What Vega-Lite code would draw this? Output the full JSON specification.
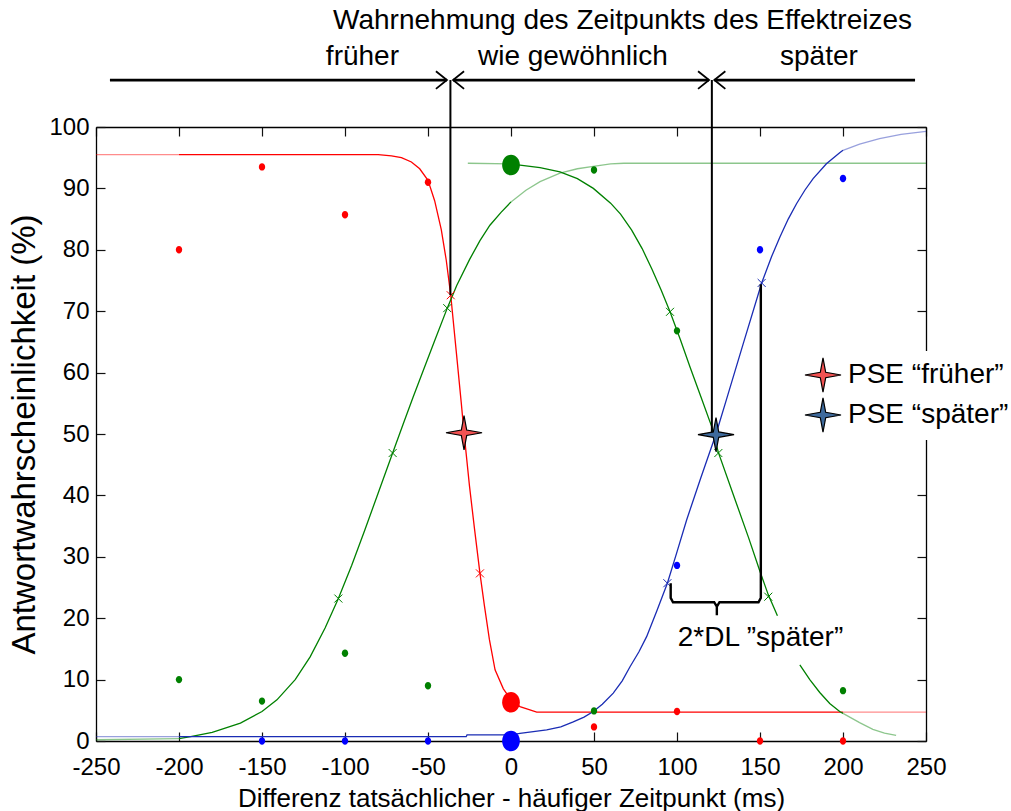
{
  "$schema": "https://vega.github.io/schema/vega-lite/v6.json",
  "width": 830,
  "height": 614,
  "autosize": {"type": "none"},
  "padding": {"left": 96, "top": 127, "right": 85, "bottom": 70},
  "background": "white",
  "config": {
    "font": "Liberation Sans",
    "view": {"stroke": null},
    "axis": {
      "grid": false, "domain": true, "domainColor": "black", "domainWidth": 1.3,
      "ticks": true, "tickColor": "#111111", "tickWidth": 1.2, "tickSize": -9,
      "labelColor": "black", "labelFontSize": 24, "labelFont": "Liberation Sans",
      "titleColor": "black", "titleFontSize": 26, "titleFontWeight": "normal", "titleFont": "Liberation Sans",
      "labelFlush": false, "labelOverlap": false, "labelBound": false
    }
  },
  "datasets": {
    "kurven": [
      {"kurve": "früher", "segment": "früher-1", "bereich": "Extrapolation", "x": -250, "y": 95.5},
      {"kurve": "früher", "segment": "früher-1", "bereich": "Extrapolation", "x": -200, "y": 95.5},
      {"kurve": "früher", "segment": "früher-2", "bereich": "Fit", "x": -200, "y": 95.5},
      {"kurve": "früher", "segment": "früher-2", "bereich": "Fit", "x": -80, "y": 95.5},
      {"kurve": "früher", "segment": "früher-2", "bereich": "Fit", "x": -72, "y": 95.3},
      {"kurve": "früher", "segment": "früher-2", "bereich": "Fit", "x": -66, "y": 95.0},
      {"kurve": "früher", "segment": "früher-2", "bereich": "Fit", "x": -60, "y": 94.3},
      {"kurve": "früher", "segment": "früher-2", "bereich": "Fit", "x": -55, "y": 93.2},
      {"kurve": "früher", "segment": "früher-2", "bereich": "Fit", "x": -50, "y": 91.3},
      {"kurve": "früher", "segment": "früher-2", "bereich": "Fit", "x": -46, "y": 88.0},
      {"kurve": "früher", "segment": "früher-2", "bereich": "Fit", "x": -42, "y": 83.3},
      {"kurve": "früher", "segment": "früher-2", "bereich": "Fit", "x": -39, "y": 78.3},
      {"kurve": "früher", "segment": "früher-2", "bereich": "Fit", "x": -36.3, "y": 72.6},
      {"kurve": "früher", "segment": "früher-2", "bereich": "Fit", "x": -33, "y": 63.5},
      {"kurve": "früher", "segment": "früher-2", "bereich": "Fit", "x": -30, "y": 55.2},
      {"kurve": "früher", "segment": "früher-2", "bereich": "Fit", "x": -28.3, "y": 50.2},
      {"kurve": "früher", "segment": "früher-2", "bereich": "Fit", "x": -25, "y": 41.5},
      {"kurve": "früher", "segment": "früher-2", "bereich": "Fit", "x": -22, "y": 34.6},
      {"kurve": "früher", "segment": "früher-2", "bereich": "Fit", "x": -18.7, "y": 27.3},
      {"kurve": "früher", "segment": "früher-2", "bereich": "Fit", "x": -16, "y": 22.0},
      {"kurve": "früher", "segment": "früher-2", "bereich": "Fit", "x": -13, "y": 16.5},
      {"kurve": "früher", "segment": "früher-2", "bereich": "Fit", "x": -9.6, "y": 11.6},
      {"kurve": "früher", "segment": "früher-2", "bereich": "Fit", "x": -4.6, "y": 8.5},
      {"kurve": "früher", "segment": "früher-2", "bereich": "Fit", "x": 0, "y": 6.7},
      {"kurve": "früher", "segment": "früher-2", "bereich": "Fit", "x": 5.4, "y": 5.6},
      {"kurve": "früher", "segment": "früher-2", "bereich": "Fit", "x": 10, "y": 5.2},
      {"kurve": "früher", "segment": "früher-2", "bereich": "Fit", "x": 15.5, "y": 4.7},
      {"kurve": "früher", "segment": "früher-2", "bereich": "Fit", "x": 200, "y": 4.7},
      {"kurve": "früher", "segment": "früher-3", "bereich": "Extrapolation", "x": 200, "y": 4.7},
      {"kurve": "früher", "segment": "früher-3", "bereich": "Extrapolation", "x": 250, "y": 4.7},

      {"kurve": "gewöhnlich", "segment": "steigend-1", "bereich": "Extrapolation", "x": -250, "y": 0.2},
      {"kurve": "gewöhnlich", "segment": "steigend-1", "bereich": "Extrapolation", "x": -200, "y": 0.4},
      {"kurve": "gewöhnlich", "segment": "steigend-2", "bereich": "Fit", "x": -200, "y": 0.4},
      {"kurve": "gewöhnlich", "segment": "steigend-2", "bereich": "Fit", "x": -193, "y": 0.7},
      {"kurve": "gewöhnlich", "segment": "steigend-2", "bereich": "Fit", "x": -180, "y": 1.4},
      {"kurve": "gewöhnlich", "segment": "steigend-2", "bereich": "Fit", "x": -163, "y": 2.9},
      {"kurve": "gewöhnlich", "segment": "steigend-2", "bereich": "Fit", "x": -150, "y": 4.8},
      {"kurve": "gewöhnlich", "segment": "steigend-2", "bereich": "Fit", "x": -141, "y": 6.7},
      {"kurve": "gewöhnlich", "segment": "steigend-2", "bereich": "Fit", "x": -130, "y": 10.0},
      {"kurve": "gewöhnlich", "segment": "steigend-2", "bereich": "Fit", "x": -121, "y": 13.7},
      {"kurve": "gewöhnlich", "segment": "steigend-2", "bereich": "Fit", "x": -112, "y": 18.4},
      {"kurve": "gewöhnlich", "segment": "steigend-2", "bereich": "Fit", "x": -104, "y": 23.2},
      {"kurve": "gewöhnlich", "segment": "steigend-2", "bereich": "Fit", "x": -96, "y": 28.6},
      {"kurve": "gewöhnlich", "segment": "steigend-2", "bereich": "Fit", "x": -88, "y": 34.4},
      {"kurve": "gewöhnlich", "segment": "steigend-2", "bereich": "Fit", "x": -80, "y": 40.4},
      {"kurve": "gewöhnlich", "segment": "steigend-2", "bereich": "Fit", "x": -71.3, "y": 46.9},
      {"kurve": "gewöhnlich", "segment": "steigend-2", "bereich": "Fit", "x": -65, "y": 51.6},
      {"kurve": "gewöhnlich", "segment": "steigend-2", "bereich": "Fit", "x": -59, "y": 56.0},
      {"kurve": "gewöhnlich", "segment": "steigend-2", "bereich": "Fit", "x": -52.8, "y": 60.4},
      {"kurve": "gewöhnlich", "segment": "steigend-2", "bereich": "Fit", "x": -46, "y": 65.2},
      {"kurve": "gewöhnlich", "segment": "steigend-2", "bereich": "Fit", "x": -38.4, "y": 70.5},
      {"kurve": "gewöhnlich", "segment": "steigend-2", "bereich": "Fit", "x": -32.7, "y": 74.2},
      {"kurve": "gewöhnlich", "segment": "steigend-2", "bereich": "Fit", "x": -25, "y": 78.4},
      {"kurve": "gewöhnlich", "segment": "steigend-2", "bereich": "Fit", "x": -18.7, "y": 81.5},
      {"kurve": "gewöhnlich", "segment": "steigend-2", "bereich": "Fit", "x": -12.7, "y": 84.0},
      {"kurve": "gewöhnlich", "segment": "steigend-2", "bereich": "Fit", "x": -6, "y": 86.1},
      {"kurve": "gewöhnlich", "segment": "steigend-2", "bereich": "Fit", "x": 0, "y": 87.8},
      {"kurve": "gewöhnlich", "segment": "steigend-3", "bereich": "Extrapolation", "x": 0, "y": 87.8},
      {"kurve": "gewöhnlich", "segment": "steigend-3", "bereich": "Extrapolation", "x": 9, "y": 89.7},
      {"kurve": "gewöhnlich", "segment": "steigend-3", "bereich": "Extrapolation", "x": 17.5, "y": 91.1},
      {"kurve": "gewöhnlich", "segment": "steigend-3", "bereich": "Extrapolation", "x": 29.5, "y": 92.5},
      {"kurve": "gewöhnlich", "segment": "steigend-3", "bereich": "Extrapolation", "x": 40, "y": 93.2},
      {"kurve": "gewöhnlich", "segment": "steigend-3", "bereich": "Extrapolation", "x": 49.6, "y": 93.6},
      {"kurve": "gewöhnlich", "segment": "steigend-3", "bereich": "Extrapolation", "x": 60, "y": 94.0},
      {"kurve": "gewöhnlich", "segment": "steigend-3", "bereich": "Extrapolation", "x": 68, "y": 94.1},
      {"kurve": "gewöhnlich", "segment": "steigend-3", "bereich": "Extrapolation", "x": 250, "y": 94.1},

      {"kurve": "gewöhnlich", "segment": "fallend-1", "bereich": "Extrapolation", "x": -26, "y": 94.1},
      {"kurve": "gewöhnlich", "segment": "fallend-1", "bereich": "Extrapolation", "x": 0, "y": 94.0},
      {"kurve": "gewöhnlich", "segment": "fallend-2", "bereich": "Fit", "x": 0, "y": 94.0},
      {"kurve": "gewöhnlich", "segment": "fallend-2", "bereich": "Fit", "x": 5.4, "y": 93.8},
      {"kurve": "gewöhnlich", "segment": "fallend-2", "bereich": "Fit", "x": 17.5, "y": 93.4},
      {"kurve": "gewöhnlich", "segment": "fallend-2", "bereich": "Fit", "x": 29.5, "y": 92.7},
      {"kurve": "gewöhnlich", "segment": "fallend-2", "bereich": "Fit", "x": 40, "y": 91.6},
      {"kurve": "gewöhnlich", "segment": "fallend-2", "bereich": "Fit", "x": 49.6, "y": 90.0},
      {"kurve": "gewöhnlich", "segment": "fallend-2", "bereich": "Fit", "x": 60, "y": 87.6},
      {"kurve": "gewöhnlich", "segment": "fallend-2", "bereich": "Fit", "x": 66, "y": 85.8},
      {"kurve": "gewöhnlich", "segment": "fallend-2", "bereich": "Fit", "x": 72.7, "y": 83.2},
      {"kurve": "gewöhnlich", "segment": "fallend-2", "bereich": "Fit", "x": 79, "y": 80.2},
      {"kurve": "gewöhnlich", "segment": "fallend-2", "bereich": "Fit", "x": 85, "y": 76.8},
      {"kurve": "gewöhnlich", "segment": "fallend-2", "bereich": "Fit", "x": 90.5, "y": 73.4},
      {"kurve": "gewöhnlich", "segment": "fallend-2", "bereich": "Fit", "x": 95.8, "y": 69.9},
      {"kurve": "gewöhnlich", "segment": "fallend-2", "bereich": "Fit", "x": 102, "y": 65.4},
      {"kurve": "gewöhnlich", "segment": "fallend-2", "bereich": "Fit", "x": 108, "y": 60.8},
      {"kurve": "gewöhnlich", "segment": "fallend-2", "bereich": "Fit", "x": 114.5, "y": 56.0},
      {"kurve": "gewöhnlich", "segment": "fallend-2", "bereich": "Fit", "x": 120.9, "y": 51.2},
      {"kurve": "gewöhnlich", "segment": "fallend-2", "bereich": "Fit", "x": 124.9, "y": 47.0},
      {"kurve": "gewöhnlich", "segment": "fallend-2", "bereich": "Fit", "x": 135, "y": 39.3},
      {"kurve": "gewöhnlich", "segment": "fallend-2", "bereich": "Fit", "x": 143, "y": 33.2},
      {"kurve": "gewöhnlich", "segment": "fallend-2", "bereich": "Fit", "x": 150, "y": 27.6},
      {"kurve": "gewöhnlich", "segment": "fallend-2", "bereich": "Fit", "x": 155, "y": 23.8},
      {"kurve": "gewöhnlich", "segment": "fallend-2", "bereich": "Fit", "x": 160.5, "y": 20.4},
      {"kurve": "gewöhnlich", "segment": "fallend-3", "bereich": "Fit", "x": 174, "y": 12.4},
      {"kurve": "gewöhnlich", "segment": "fallend-3", "bereich": "Fit", "x": 180, "y": 10.0},
      {"kurve": "gewöhnlich", "segment": "fallend-3", "bereich": "Fit", "x": 186, "y": 7.9},
      {"kurve": "gewöhnlich", "segment": "fallend-3", "bereich": "Fit", "x": 192, "y": 6.1},
      {"kurve": "gewöhnlich", "segment": "fallend-3", "bereich": "Fit", "x": 198, "y": 4.8},
      {"kurve": "gewöhnlich", "segment": "fallend-3", "bereich": "Fit", "x": 200, "y": 4.5},
      {"kurve": "gewöhnlich", "segment": "fallend-4", "bereich": "Extrapolation", "x": 200, "y": 4.5},
      {"kurve": "gewöhnlich", "segment": "fallend-4", "bereich": "Extrapolation", "x": 210, "y": 3.0},
      {"kurve": "gewöhnlich", "segment": "fallend-4", "bereich": "Extrapolation", "x": 218, "y": 1.9},
      {"kurve": "gewöhnlich", "segment": "fallend-4", "bereich": "Extrapolation", "x": 225, "y": 1.3},
      {"kurve": "gewöhnlich", "segment": "fallend-4", "bereich": "Extrapolation", "x": 232, "y": 0.9},

      {"kurve": "später", "segment": "später-1", "bereich": "Extrapolation", "x": -250, "y": 0.7},
      {"kurve": "später", "segment": "später-1", "bereich": "Extrapolation", "x": -200, "y": 0.7},
      {"kurve": "später", "segment": "später-2", "bereich": "Fit", "x": -200, "y": 0.7},
      {"kurve": "später", "segment": "später-2", "bereich": "Fit", "x": -27, "y": 0.7},
      {"kurve": "später", "segment": "später-2", "bereich": "Fit", "x": -26.5, "y": 1.0},
      {"kurve": "später", "segment": "später-2", "bereich": "Fit", "x": 0, "y": 1.0},
      {"kurve": "später", "segment": "später-2", "bereich": "Fit", "x": 5.4, "y": 1.25},
      {"kurve": "später", "segment": "später-2", "bereich": "Fit", "x": 21.5, "y": 1.8},
      {"kurve": "später", "segment": "später-2", "bereich": "Fit", "x": 30, "y": 2.3},
      {"kurve": "später", "segment": "später-2", "bereich": "Fit", "x": 37.5, "y": 3.1},
      {"kurve": "später", "segment": "später-2", "bereich": "Fit", "x": 44, "y": 3.9},
      {"kurve": "später", "segment": "später-2", "bereich": "Fit", "x": 49.6, "y": 4.8},
      {"kurve": "später", "segment": "später-2", "bereich": "Fit", "x": 55, "y": 6.0},
      {"kurve": "später", "segment": "später-2", "bereich": "Fit", "x": 61.6, "y": 7.8},
      {"kurve": "später", "segment": "später-2", "bereich": "Fit", "x": 67, "y": 9.8},
      {"kurve": "später", "segment": "später-2", "bereich": "Fit", "x": 71.7, "y": 12.1},
      {"kurve": "später", "segment": "später-2", "bereich": "Fit", "x": 77, "y": 14.5},
      {"kurve": "später", "segment": "später-2", "bereich": "Fit", "x": 81.7, "y": 17.0},
      {"kurve": "später", "segment": "später-2", "bereich": "Fit", "x": 88, "y": 21.3},
      {"kurve": "später", "segment": "später-2", "bereich": "Fit", "x": 94.2, "y": 25.7},
      {"kurve": "später", "segment": "später-2", "bereich": "Fit", "x": 100, "y": 30.8},
      {"kurve": "später", "segment": "später-2", "bereich": "Fit", "x": 105.8, "y": 36.0},
      {"kurve": "später", "segment": "später-2", "bereich": "Fit", "x": 114, "y": 42.6},
      {"kurve": "später", "segment": "später-2", "bereich": "Fit", "x": 123.5, "y": 50.0},
      {"kurve": "später", "segment": "später-2", "bereich": "Fit", "x": 130, "y": 55.8},
      {"kurve": "später", "segment": "später-2", "bereich": "Fit", "x": 140, "y": 64.8},
      {"kurve": "später", "segment": "später-2", "bereich": "Fit", "x": 151, "y": 74.6},
      {"kurve": "später", "segment": "später-2", "bereich": "Fit", "x": 157, "y": 78.9},
      {"kurve": "später", "segment": "später-2", "bereich": "Fit", "x": 162, "y": 82.1},
      {"kurve": "später", "segment": "später-2", "bereich": "Fit", "x": 167, "y": 85.0},
      {"kurve": "später", "segment": "später-2", "bereich": "Fit", "x": 172, "y": 87.5},
      {"kurve": "später", "segment": "später-2", "bereich": "Fit", "x": 177, "y": 89.7},
      {"kurve": "später", "segment": "später-2", "bereich": "Fit", "x": 182, "y": 91.6},
      {"kurve": "später", "segment": "später-2", "bereich": "Fit", "x": 190, "y": 94.0},
      {"kurve": "später", "segment": "später-2", "bereich": "Fit", "x": 198, "y": 95.8},
      {"kurve": "später", "segment": "später-2", "bereich": "Fit", "x": 200, "y": 96.2},
      {"kurve": "später", "segment": "später-3", "bereich": "Extrapolation", "x": 200, "y": 96.2},
      {"kurve": "später", "segment": "später-3", "bereich": "Extrapolation", "x": 210, "y": 97.2},
      {"kurve": "später", "segment": "später-3", "bereich": "Extrapolation", "x": 222, "y": 98.1},
      {"kurve": "später", "segment": "später-3", "bereich": "Extrapolation", "x": 235, "y": 98.8},
      {"kurve": "später", "segment": "später-3", "bereich": "Extrapolation", "x": 250, "y": 99.3}
    ],
    "messwerte": [
      {"kurve": "früher", "bedingung": "Test", "x": -200, "y": 80.0},
      {"kurve": "früher", "bedingung": "Test", "x": -150, "y": 93.5},
      {"kurve": "früher", "bedingung": "Test", "x": -100, "y": 85.7},
      {"kurve": "früher", "bedingung": "Test", "x": -50, "y": 91.0},
      {"kurve": "früher", "bedingung": "Standard", "x": 0, "y": 6.3},
      {"kurve": "früher", "bedingung": "Test", "x": 50, "y": 2.3},
      {"kurve": "früher", "bedingung": "Test", "x": 100, "y": 4.8},
      {"kurve": "früher", "bedingung": "Test", "x": 150, "y": 0},
      {"kurve": "früher", "bedingung": "Test", "x": 200, "y": 0},
      {"kurve": "später", "bedingung": "Test", "x": -150, "y": 0},
      {"kurve": "später", "bedingung": "Test", "x": -100, "y": 0},
      {"kurve": "später", "bedingung": "Test", "x": -50, "y": 0},
      {"kurve": "später", "bedingung": "Standard", "x": 0, "y": 0},
      {"kurve": "später", "bedingung": "Test", "x": 100, "y": 28.6},
      {"kurve": "später", "bedingung": "Test", "x": 150, "y": 80.0},
      {"kurve": "später", "bedingung": "Test", "x": 200, "y": 91.6},
      {"kurve": "gewöhnlich", "bedingung": "Test", "x": -200, "y": 10.0},
      {"kurve": "gewöhnlich", "bedingung": "Test", "x": -150, "y": 6.5},
      {"kurve": "gewöhnlich", "bedingung": "Test", "x": -100, "y": 14.3},
      {"kurve": "gewöhnlich", "bedingung": "Test", "x": -50, "y": 9.0},
      {"kurve": "gewöhnlich", "bedingung": "Standard", "x": 0, "y": 93.8},
      {"kurve": "gewöhnlich", "bedingung": "Test", "x": 50, "y": 93.0},
      {"kurve": "gewöhnlich", "bedingung": "Test", "x": 50, "y": 4.9},
      {"kurve": "gewöhnlich", "bedingung": "Test", "x": 100, "y": 66.8},
      {"kurve": "gewöhnlich", "bedingung": "Test", "x": 200, "y": 8.2}
    ],
    "kennpunkte": [
      {"kurve": "früher", "x": -36.3, "y": 72.6},
      {"kurve": "früher", "x": -18.7, "y": 27.3},
      {"kurve": "gewöhnlich", "x": -104, "y": 23.2},
      {"kurve": "gewöhnlich", "x": -71.3, "y": 46.9},
      {"kurve": "gewöhnlich", "x": -38.4, "y": 70.5},
      {"kurve": "gewöhnlich", "x": 95.8, "y": 69.9},
      {"kurve": "gewöhnlich", "x": 124.9, "y": 46.9},
      {"kurve": "gewöhnlich", "x": 155, "y": 23.5},
      {"kurve": "später", "x": 94.2, "y": 25.7},
      {"kurve": "später", "x": 151, "y": 74.6}
    ],
    "linien": [
      {"linie": "PSE früher", "art": "Markierung", "ord": 1, "x": -36.5, "y": 72.6},
      {"linie": "PSE früher", "art": "Markierung", "ord": 2, "x": -36.5, "y": 107.65},
      {"linie": "PSE später", "art": "Markierung", "ord": 1, "x": 121, "y": 50.0},
      {"linie": "PSE später", "art": "Markierung", "ord": 2, "x": 121, "y": 107.65},
      {"linie": "Klammer", "art": "Klammer", "ord": 1, "x": 96.2, "y": 25.7},
      {"linie": "Klammer", "art": "Klammer", "ord": 2, "x": 96.2, "y": 23.3},
      {"linie": "Klammer", "art": "Klammer", "ord": 3, "x": 97.6, "y": 22.6},
      {"linie": "Klammer", "art": "Klammer", "ord": 4, "x": 122.4, "y": 22.6},
      {"linie": "Klammer", "art": "Klammer", "ord": 5, "x": 124.0, "y": 21.9},
      {"linie": "Klammer", "art": "Klammer", "ord": 6, "x": 124.0, "y": 20.5},
      {"linie": "Klammer", "art": "Klammer", "ord": 7, "x": 124.0, "y": 21.9},
      {"linie": "Klammer", "art": "Klammer", "ord": 8, "x": 125.6, "y": 22.6},
      {"linie": "Klammer", "art": "Klammer", "ord": 9, "x": 149.1, "y": 22.6},
      {"linie": "Klammer", "art": "Klammer", "ord": 10, "x": 150.5, "y": 23.3},
      {"linie": "Klammer", "art": "Klammer", "ord": 11, "x": 150.5, "y": 74.4},
      {"linie": "Pfeil früher", "art": "Pfeil", "ord": 1, "x": -241.6, "y": 107.65},
      {"linie": "Pfeil früher", "art": "Pfeil", "ord": 2, "x": -38.6, "y": 107.65},
      {"linie": "Pfeil gewöhnlich", "art": "Pfeil", "ord": 1, "x": -34.9, "y": 107.65},
      {"linie": "Pfeil gewöhnlich", "art": "Pfeil", "ord": 2, "x": 119.3, "y": 107.65},
      {"linie": "Pfeil später", "art": "Pfeil", "ord": 1, "x": 122.5, "y": 107.65},
      {"linie": "Pfeil später", "art": "Pfeil", "ord": 2, "x": 243.4, "y": 107.65}
    ],
    "pfeilspitzen": [
      {"richtung": "rechts", "x": -38.6, "y": 107.65},
      {"richtung": "links", "x": -34.9, "y": 107.65},
      {"richtung": "rechts", "x": 119.3, "y": 107.65},
      {"richtung": "links", "x": 122.5, "y": 107.65}
    ],
    "pse": [
      {"pse": "PSE “früher”", "x": -28.3, "y": 50.2},
      {"pse": "PSE “später”", "x": 123.5, "y": 49.9}
    ],
    "texte": [
      {"text": "Wahrnehmung des Zeitpunkts des Effektreizes", "x": 67.2, "y": 117.2},
      {"text": "früher", "x": -89.5, "y": 111.4},
      {"text": "wie gewöhnlich", "x": 37.3, "y": 111.4},
      {"text": "später", "x": 185.5, "y": 111.4},
      {"text": "2*DL ”später”", "x": 150.3, "y": 16.7}
    ]
  },
  "layer": [
    {
      "data": {"name": "kurven"},
      "mark": {"type": "line", "strokeWidth": 1.3},
      "encoding": {
        "x": {"field": "x", "type": "quantitative", "scale": {"domain": [-250, 250], "nice": false, "zero": false},
              "axis": {"orient": "bottom", "values": [-250, -200, -150, -100, -50, 0, 50, 100, 150, 200, 250], "labelPadding": 23, "labelExpr": "'' + datum.value", "title": "Differenz tatsächlicher - häufiger Zeitpunkt (ms)", "titlePadding": 6}},
        "y": {"field": "y", "type": "quantitative", "scale": {"domain": [0, 100], "nice": false, "zero": false},
              "axis": {"orient": "left", "values": [0, 10, 20, 30, 40, 50, 60, 70, 80, 90, 100], "labelPadding": 16, "title": "Antwortwahrscheinlichkeit (%)", "titleFontSize": 33, "titlePadding": 7}},
        "stroke": {"field": "kurve", "type": "nominal", "scale": {"domain": ["früher", "gewöhnlich", "später"], "range": ["#ff0000", "#008000", "#1a2cb4"]}, "legend": null},
        "detail": {"field": "segment", "type": "nominal"},
        "opacity": {"field": "bereich", "type": "nominal", "scale": {"domain": ["Fit", "Extrapolation"], "range": [1, 0.45]}, "legend": null}
      }
    },
    {
      "data": {"name": "messwerte"},
      "mark": {"type": "point", "filled": true, "opacity": 1, "shape": "M-0.86,0A0.86,1,0,1,0,0.86,0A0.86,1,0,1,0,-0.86,0Z"},
      "encoding": {
        "x": {"field": "x", "type": "quantitative", "scale": {"domain": [-250, 250], "nice": false, "zero": false},
              "axis": {"values": [-250, -200, -150, -100, -50, 0, 50, 100, 150, 200, 250], "labels": false, "title": null, "domain": true}},
        "y": {"field": "y", "type": "quantitative", "scale": {"domain": [0, 100], "nice": false, "zero": false},
              "axis": {"values": [0, 10, 20, 30, 40, 50, 60, 70, 80, 90, 100], "labels": false, "title": null, "domain": true}},
        "color": {"field": "kurve", "type": "nominal", "scale": {"domain": ["früher", "gewöhnlich", "später"], "range": ["#ff0000", "#008000", "#0000ff"]}, "legend": null},
        "size": {"field": "bedingung", "type": "ordinal", "scale": {"domain": ["Test", "Standard"], "range": [55, 424]}, "legend": null}
      }
    },
    {
      "data": {"name": "kennpunkte"},
      "mark": {"type": "point", "shape": "M-1,-1L1,1M-1,1L1,-1", "filled": false, "size": 64, "strokeWidth": 1, "opacity": 1},
      "encoding": {
        "x": {"field": "x", "type": "quantitative", "scale": {"domain": [-250, 250], "nice": false, "zero": false}, "axis": null},
        "y": {"field": "y", "type": "quantitative", "scale": {"domain": [0, 100], "nice": false, "zero": false}, "axis": null},
        "stroke": {"field": "kurve", "type": "nominal", "legend": null}
      }
    },
    {
      "data": {"name": "linien"},
      "mark": {"type": "line", "color": "black"},
      "encoding": {
        "x": {"field": "x", "type": "quantitative", "scale": {"domain": [-250, 250], "nice": false, "zero": false}, "axis": null},
        "y": {"field": "y", "type": "quantitative", "scale": {"domain": [0, 100], "nice": false, "zero": false}, "axis": null},
        "detail": {"field": "linie", "type": "nominal"},
        "order": {"field": "ord", "type": "quantitative"},
        "strokeWidth": {"field": "art", "type": "nominal", "scale": {"domain": ["Markierung", "Klammer", "Pfeil"], "range": [2, 2.8, 1.8]}, "legend": null}
      }
    },
    {
      "data": {"name": "pfeilspitzen"},
      "mark": {"type": "point", "filled": false, "color": "black", "strokeWidth": 1.8, "size": 484, "opacity": 1},
      "encoding": {
        "x": {"field": "x", "type": "quantitative", "scale": {"domain": [-250, 250], "nice": false, "zero": false}, "axis": null},
        "y": {"field": "y", "type": "quantitative", "scale": {"domain": [0, 100], "nice": false, "zero": false}, "axis": null},
        "shape": {"field": "richtung", "type": "nominal", "scale": {"domain": ["rechts", "links"], "range": ["M-1,-0.8L0,0L-1,0.8", "M1,-0.8L0,0L1,0.8"]}, "legend": null}
      }
    },
    {
      "data": {"name": "pse"},
      "mark": {"type": "point", "shape": "M0,-0.95L0.15,-0.15L1,0L0.15,0.15L0,0.95L-0.15,0.15L-1,0L-0.15,-0.15Z", "filled": true, "stroke": "black", "strokeWidth": 1.2, "size": 1300, "opacity": 1},
      "encoding": {
        "x": {"field": "x", "type": "quantitative", "scale": {"domain": [-250, 250], "nice": false, "zero": false}, "axis": null},
        "y": {"field": "y", "type": "quantitative", "scale": {"domain": [0, 100], "nice": false, "zero": false}, "axis": null},
        "fill": {"field": "pse", "type": "nominal", "scale": {"domain": ["PSE “früher”", "PSE “später”"], "range": ["#f25252", "#3e6a9c"]},
                 "legend": {"title": null, "orient": "none", "legendX": 703, "legendY": 224, "fillColor": "white", "padding": 5,
                            "symbolType": "M0,-0.95L0.15,-0.15L1,0L0.15,0.15L0,0.95L-0.15,0.15L-1,0L-0.15,-0.15Z", "symbolSize": 1300,
                            "symbolStrokeColor": "black", "symbolStrokeWidth": 1.2, "symbolOpacity": 1,
                            "labelFontSize": 28, "labelFont": "Liberation Sans", "labelColor": "black", "labelOffset": 6, "labelLimit": 400,
                            "rowPadding": 0}}
      }
    },
    {
      "data": {"name": "texte"},
      "mark": {"type": "text", "fontSize": 28, "font": "Liberation Sans", "color": "black", "align": "center", "baseline": "middle"},
      "encoding": {
        "x": {"field": "x", "type": "quantitative", "scale": {"domain": [-250, 250], "nice": false, "zero": false}, "axis": null},
        "y": {"field": "y", "type": "quantitative", "scale": {"domain": [0, 100], "nice": false, "zero": false}, "axis": null},
        "text": {"field": "text", "type": "nominal"}
      }
    }
  ],
  "resolve": {"scale": {"x": "independent", "y": "independent"}, "axis": {"x": "independent", "y": "independent"}}
}
